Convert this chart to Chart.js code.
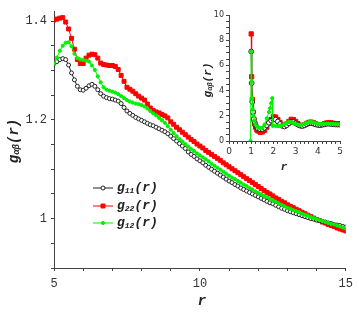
<!DOCTYPE html>
<html lang="en">
<head>
  <meta charset="UTF-8">
  <title>g(r)</title>
  <script src="https://cdn.jsdelivr.net/npm/chart.js@4.4.1/dist/chart.umd.min.js"></script>
  <style>
    body { margin: 0; background: #fff; }
    #wrap { position: relative; width: 359px; height: 317px; }
    #inset { position: absolute; left: 180px; top: 0; }
  </style>
</head>
<body>
  <div id="wrap">
    <canvas id="chart" width="359" height="317"></canvas>
    <canvas id="inset" width="179" height="175"></canvas>
  </div>
  <script>
    // main panel, r from 5 to 15
    const rMain = [
      5.0, 5.1, 5.2, 5.3, 5.4, 5.5, 5.6, 5.7, 5.8, 5.9,
      6.0, 6.1, 6.2, 6.3, 6.4, 6.5, 6.6, 6.7, 6.8, 6.9,
      7.0, 7.1, 7.2, 7.3, 7.4, 7.5, 7.6, 7.7, 7.8, 7.9,
      8.0, 8.1, 8.2, 8.3, 8.4, 8.5, 8.6, 8.7, 8.8, 8.9,
      9.0, 9.1, 9.2, 9.3, 9.4, 9.5, 9.6, 9.7, 9.8, 9.9,
      10.0, 10.1, 10.2, 10.3, 10.4, 10.5, 10.6, 10.7, 10.8, 10.9,
      11.0, 11.1, 11.2, 11.3, 11.4, 11.5, 11.6, 11.7, 11.8, 11.9,
      12.0, 12.1, 12.2, 12.3, 12.4, 12.5, 12.6, 12.7, 12.8, 12.9,
      13.0, 13.1, 13.2, 13.3, 13.4, 13.5, 13.6, 13.7, 13.8, 13.9,
      14.0, 14.1, 14.2, 14.3, 14.4, 14.5, 14.6, 14.7, 14.8, 14.9,
      15.0
    ];
    const g11 = [
      1.314, 1.318, 1.322, 1.324, 1.322, 1.311, 1.295, 1.281, 1.268, 1.261,
      1.260, 1.264, 1.269, 1.272, 1.268, 1.261, 1.253, 1.248, 1.245, 1.243,
      1.242, 1.240, 1.238, 1.233, 1.225, 1.218, 1.213, 1.209, 1.205, 1.202,
      1.199, 1.196, 1.193, 1.190, 1.188, 1.185, 1.182, 1.179, 1.176, 1.172,
      1.167, 1.162, 1.157, 1.152, 1.147, 1.142, 1.135, 1.130, 1.126, 1.121,
      1.117, 1.113, 1.108, 1.104, 1.100, 1.096, 1.092, 1.088, 1.084, 1.080,
      1.076, 1.073, 1.069, 1.066, 1.062, 1.059, 1.056, 1.053, 1.050, 1.047,
      1.044, 1.041, 1.038, 1.035, 1.032, 1.030, 1.027, 1.024, 1.021, 1.019,
      1.016, 1.014, 1.012, 1.010, 1.008, 1.006, 1.004, 1.002, 1.000, 0.999,
      0.997, 0.996, 0.994, 0.993, 0.991, 0.990, 0.988, 0.987, 0.986, 0.984,
      0.983
    ];
    const g22 = [
      1.402, 1.404, 1.406, 1.407, 1.398, 1.384, 1.365, 1.343, 1.322, 1.314,
      1.314, 1.325, 1.331, 1.333, 1.332, 1.325, 1.315, 1.312, 1.311, 1.310,
      1.310, 1.308, 1.302, 1.290, 1.278, 1.266, 1.262, 1.258, 1.253, 1.248,
      1.244, 1.240, 1.232, 1.224, 1.219, 1.216, 1.214, 1.211, 1.208, 1.204,
      1.196, 1.191, 1.185, 1.180, 1.175, 1.170, 1.165, 1.160, 1.156, 1.151,
      1.147, 1.143, 1.138, 1.134, 1.130, 1.126, 1.122, 1.118, 1.113, 1.109,
      1.105, 1.101, 1.097, 1.093, 1.089, 1.085, 1.081, 1.077, 1.073, 1.069,
      1.065, 1.061, 1.057, 1.053, 1.050, 1.046, 1.042, 1.039, 1.035, 1.032,
      1.028, 1.025, 1.022, 1.019, 1.016, 1.013, 1.010, 1.007, 1.004, 1.001,
      0.998, 0.996, 0.993, 0.991, 0.988, 0.986, 0.984, 0.981, 0.979, 0.977,
      0.975
    ];
    const g12 = [
      1.314, 1.326, 1.340, 1.350, 1.356, 1.357, 1.349, 1.334, 1.325, 1.322,
      1.321, 1.320, 1.318, 1.310, 1.301, 1.288, 1.276, 1.266, 1.261, 1.259,
      1.257, 1.255, 1.252, 1.248, 1.244, 1.240, 1.237, 1.235, 1.233, 1.232,
      1.230, 1.227, 1.223, 1.218, 1.213, 1.209, 1.204, 1.199, 1.194, 1.187,
      1.180, 1.173, 1.167, 1.161, 1.156, 1.151, 1.146, 1.141, 1.137, 1.132,
      1.128, 1.124, 1.120, 1.116, 1.111, 1.107, 1.103, 1.099, 1.095, 1.091,
      1.087, 1.083, 1.080, 1.076, 1.073, 1.069, 1.066, 1.062, 1.059, 1.055,
      1.052, 1.049, 1.046, 1.043, 1.040, 1.037, 1.034, 1.031, 1.028, 1.025,
      1.022, 1.020, 1.017, 1.015, 1.013, 1.010, 1.008, 1.006, 1.003, 1.001,
      0.999, 0.997, 0.995, 0.993, 0.991, 0.989, 0.988, 0.986, 0.984, 0.982,
      0.980
    ];

    // inset, full range
    const rIn11 = [1.00, 1.02, 1.05, 1.08, 1.12, 1.16, 1.20, 1.25, 1.30, 1.40, 1.50, 1.60, 1.70, 1.80, 1.90, 2.00, 2.10, 2.20, 2.30, 2.40, 2.50, 2.60, 2.70, 2.80, 2.90, 3.00, 3.10, 3.20, 3.30, 3.40, 3.50, 3.60, 3.70, 3.80, 3.90, 4.00, 4.10, 4.20, 4.30, 4.40, 4.50, 4.60, 4.70, 4.80, 4.90, 5.00];
    const gIn11 = [7.1, 4.6, 3.1, 2.3, 1.75, 1.45, 1.25, 1.1, 1.0, 0.93, 0.95, 1.05, 1.25, 1.45, 1.62, 1.72, 1.7, 1.55, 1.35, 1.2, 1.15, 1.25, 1.4, 1.52, 1.5, 1.4, 1.3, 1.22, 1.2, 1.25, 1.33, 1.4, 1.42, 1.38, 1.32, 1.28, 1.27, 1.3, 1.33, 1.36, 1.37, 1.35, 1.33, 1.31, 1.3, 1.3];
    const rIn22 = [1.00, 1.02, 1.05, 1.08, 1.12, 1.16, 1.20, 1.25, 1.30, 1.40, 1.50, 1.60, 1.70, 1.80, 1.90, 2.00, 2.10, 2.20, 2.30, 2.40, 2.50, 2.60, 2.70, 2.80, 2.90, 3.00, 3.10, 3.20, 3.30, 3.40, 3.50, 3.60, 3.70, 3.80, 3.90, 4.00, 4.10, 4.20, 4.30, 4.40, 4.50, 4.60, 4.70, 4.80, 4.90, 5.00];
    const gIn22 = [8.5, 5.1, 3.3, 2.3, 1.7, 1.35, 1.1, 0.9, 0.8, 0.7, 0.72, 0.85, 1.1, 1.4, 1.7, 1.92, 1.9, 1.7, 1.45, 1.25, 1.2, 1.35, 1.55, 1.72, 1.7, 1.55, 1.38, 1.25, 1.2, 1.28, 1.4, 1.48, 1.5, 1.45, 1.37, 1.3, 1.27, 1.3, 1.37, 1.43, 1.46, 1.44, 1.4, 1.37, 1.35, 1.37];
    const rIn12 = [0.97, 1.00, 1.02, 1.04, 1.07, 1.10, 1.14, 1.20, 1.30, 1.40, 1.50, 1.60, 1.70, 1.80, 1.85, 1.90, 1.95, 1.97, 2.10, 2.20, 2.30, 2.40, 2.50, 2.60, 2.70, 2.80, 2.90, 3.00, 3.10, 3.20, 3.30, 3.40, 3.50, 3.60, 3.70, 3.80, 3.90, 4.00, 4.10, 4.20, 4.30, 4.40, 4.50, 4.60, 4.70, 4.80, 4.90, 5.00];
    const gIn12 = [0, 7.1, 4.7, 3.4, 2.5, 2.0, 1.6, 1.3, 1.1, 1.02, 1.05, 1.3, 1.8, 2.3, 2.6, 3.0, 3.4, 1.2, 1.2, 1.18, 1.2, 1.25, 1.35, 1.45, 1.52, 1.5, 1.42, 1.35, 1.3, 1.28, 1.3, 1.38, 1.45, 1.5, 1.52, 1.48, 1.42, 1.37, 1.35, 1.35, 1.37, 1.38, 1.38, 1.37, 1.35, 1.34, 1.33, 1.32];

    const AXIS = '#444';
    const GREEN = '#00f000';
    const MONO = '"Liberation Mono", "DejaVu Sans Mono", monospace';
    const zip = (xs, ys) => xs.map((x, i) => ({ x: x, y: ys[i] }));

    function series(label, xs, ys, color, style, radius, fill, order) {
      return {
        label: label,
        data: zip(xs, ys),
        borderColor: color,
        borderWidth: 1,
        pointStyle: style,
        pointRadius: radius,
        pointBorderColor: color,
        pointBackgroundColor: fill,
        pointBorderWidth: 1,
        order: order,
        tension: 0
      };
    }

    // text with subscript pieces: [text, size, dy]
    function drawParts(ctx, parts, x, y, align) {
      let w = 0;
      parts.forEach(p => {
        ctx.font = 'bold italic ' + p[1] + 'px ' + MONO;
        w += ctx.measureText(p[0]).width;
      });
      let cx = align === 'center' ? x - w / 2 : x;
      ctx.textBaseline = 'middle';
      ctx.textAlign = 'left';
      parts.forEach(p => {
        ctx.font = 'bold italic ' + p[1] + 'px ' + MONO;
        ctx.fillText(p[0], cx, y + p[2]);
        cx += ctx.measureText(p[0]).width;
      });
    }

    const mainText = {
      id: 'mainText',
      afterDraw(chart) {
        const ctx = chart.ctx;
        ctx.save();
        ctx.fillStyle = '#222';
        ctx.translate(14, 141);
        ctx.rotate(-Math.PI / 2);
        drawParts(ctx, [['g', 14, 0], ['αβ', 9, 3], ['(r)', 14, 0]], 0, 0, 'center');
        ctx.restore();

        ctx.save();
        ctx.fillStyle = '#222';
        drawParts(ctx, [['r', 14, 0]], 202, 301, 'center');

        // legend
        const rows = [
          ['11', '#222', 'circle', 2, '#fff', 188],
          ['22', '#ff0000', 'rect', 2.8, '#ff0000', 206],
          ['12', GREEN, 'circle', 1.6, GREEN, 223]
        ];
        rows.forEach(r => {
          ctx.strokeStyle = r[1];
          ctx.lineWidth = 1;
          ctx.beginPath();
          ctx.moveTo(93, r[5]);
          ctx.lineTo(113, r[5]);
          ctx.stroke();
          ctx.fillStyle = r[4];
          Chart.helpers.drawPoint(ctx, { pointStyle: r[2], radius: r[3], borderWidth: 1 }, 103, r[5]);
          ctx.fillStyle = '#222';
          drawParts(ctx, [['g', 13, 0], [r[0], 8, 3], ['(r)', 13, 0]], 117, r[5], 'left');
        });
        ctx.restore();
      }
    };

    const insetText = {
      id: 'insetText',
      afterDraw(chart) {
        const ctx = chart.ctx;
        ctx.save();
        ctx.fillStyle = '#222';
        ctx.translate(28, 80);
        ctx.rotate(-Math.PI / 2);
        drawParts(ctx, [['g', 11, 0], ['αβ', 7, 2], ['(r)', 11, 0]], 0, 0, 'center');
        ctx.restore();
        ctx.save();
        ctx.fillStyle = '#222';
        drawParts(ctx, [['r', 11, 0]], 104, 167, 'center');
        ctx.restore();
      }
    };

    function axis(opts) {
      return Object.assign({
        type: 'linear',
        border: { color: AXIS, width: 1 },
        grid: { drawOnChartArea: false, color: AXIS, tickLength: 3 },
      }, opts);
    }

    new Chart(document.getElementById('chart'), {
      type: 'line',
      data: {
        datasets: [
          series('g11(r)', rMain, g11, '#222', 'circle', 2, '#fff', 1),
          series('g22(r)', rMain, g22, '#ff0000', 'rect', 2.8, '#ff0000', 2),
          series('g12(r)', rMain, g12, GREEN, 'circle', 1.6, GREEN, 0)
        ]
      },
      options: {
        responsive: false,
        animation: false,
        layout: { padding: { top: 8, right: 11 } },
        plugins: { legend: { display: false }, tooltip: { enabled: false } },
        scales: {
          x: axis({
            position: 'bottom', min: 5, max: 15,
            ticks: {
              stepSize: 1, autoSkip: false, maxRotation: 0, padding: 6, color: '#333',
              font: { family: MONO, size: 12 },
              callback: v => (v % 5 === 0 ? String(v) : '')
            },
            afterFit: s => { s.height = 49; }
          }),
          y: axis({
            position: 'left', min: 0.9, max: 1.42,
            ticks: {
              stepSize: 0.05, autoSkip: false, includeBounds: false, padding: 4, color: '#333',
              font: { family: MONO, size: 12 },
              callback: v => {
                const k = v * 5;
                return Math.abs(k - Math.round(k)) < 1e-6 ? String(Math.round(v * 10) / 10) : '';
              }
            },
            afterFit: s => { s.width = 54; }
          })
        }
      },
      plugins: [mainText]
    });

    new Chart(document.getElementById('inset'), {
      type: 'line',
      data: {
        datasets: [
          series('g11(r)', rIn11, gIn11, '#222', 'circle', 2.4, '#fff', 1),
          series('g22(r)', rIn22, gIn22, '#ff0000', 'rect', 3, '#ff0000', 2),
          series('g12(r)', rIn12, gIn12, GREEN, 'circle', 1.6, GREEN, 0)
        ]
      },
      options: {
        responsive: false,
        animation: false,
        layout: { padding: { top: 15, right: 19 } },
        plugins: { legend: { display: false }, tooltip: { enabled: false } },
        scales: {
          x: axis({
            position: 'bottom', min: 0, max: 5,
            ticks: {
              stepSize: 0.2, autoSkip: false, maxRotation: 0, padding: 2, color: '#333',
              font: { family: '"DejaVu Sans"', size: 9 },
              callback: v => (Math.abs(v - Math.round(v)) < 1e-6 ? String(Math.round(v)) : '')
            },
            afterFit: s => { s.height = 34; }
          }),
          y: axis({
            position: 'left', min: 0, max: 10,
            ticks: {
              stepSize: 0.5, autoSkip: false, padding: 2, color: '#333',
              font: { family: '"DejaVu Sans"', size: 8 },
              callback: v => (Math.abs(v / 2 - Math.round(v / 2)) < 1e-6 ? String(Math.round(v)) : '')
            },
            afterFit: s => { s.width = 49; }
          })
        }
      },
      plugins: [insetText]
    });
  </script>
</body>
</html>
